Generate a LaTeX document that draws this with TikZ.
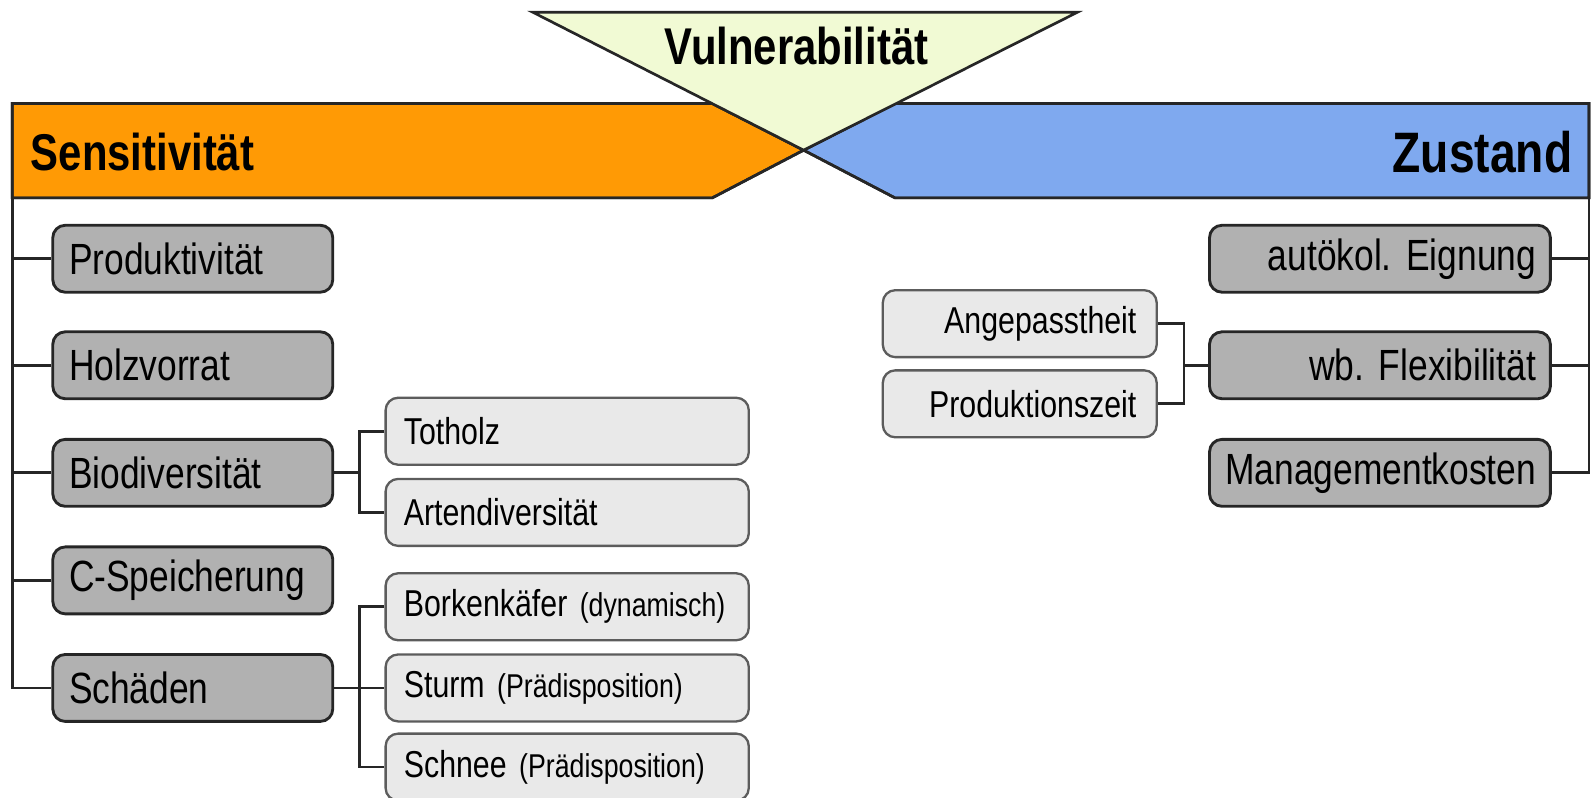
\documentclass[tikz,border=0pt]{standalone}
\usepackage{fontspec}
\setmainfont[FakeStretch=0.81]{Liberation Sans}
\frenchspacing

\definecolor{sensorange}{HTML}{FF9A05}
\definecolor{zustblue}{HTML}{7FA9EF}
\definecolor{vulnyellow}{HTML}{F1FAD4}
\definecolor{boxdark}{HTML}{B1B1B1}
\definecolor{boxlight}{HTML}{E9E9E9}
\definecolor{inkgray}{HTML}{262626}

\newcommand{\bigboxfont}{\fontsize{24.5}{26}\selectfont\spaceskip=4.2pt\relax}
\newcommand{\smallboxfont}{\fontsize{21}{23}\selectfont\spaceskip=3pt\relax}

\tikzset{
    band/.style={draw=inkgray, line width=1.5pt},
    twig/.style={draw=inkgray, line width=1.5pt},
    mainbox/.style={draw=inkgray, line width=1.6pt, rounded corners=7pt, fill=boxdark,
        minimum height=1.32cm, font=\bigboxfont},
    subbox/.style={draw=inkgray!75, line width=1.3pt, rounded corners=7pt, fill=boxlight,
        minimum height=1.32cm, font=\smallboxfont},
    leftmain/.style={mainbox, text width=4.88cm, inner xsep=0.32cm, align=left},
    leftsub/.style={subbox, text width=6.44cm, inner xsep=0.36cm, align=left},
    rightmain/.style={mainbox, text width=6.16cm, inner xsep=0.28cm, align=right},
    rightsub/.style={subbox, text width=4.6cm, inner xsep=0.4cm, align=right},
    headline/.style={font=\fontsize{29}{31}\selectfont\bfseries, inner sep=0pt}
}
\newcommand{\hint}[1]{{\fontsize{18.5}{20}\selectfont #1}}

\begin{document}
\begin{tikzpicture}[x=0.02cm, y=-0.02cm]
    \useasboundingbox (0,0) rectangle (1568,786);
    \clip (0,0) rectangle (1568,786);

    % Kopfleiste
    \fill[band, fill=sensorange] (12,102) -- (702,102) -- (792,148) -- (702,195) -- (12,195) -- cycle;
    \fill[band, fill=zustblue] (1566,102) -- (882,102) -- (792,148) -- (882,195) -- (1566,195) -- cycle;
    \draw[band] (12,195) -- (12,102) -- (702,102) -- (792,148) -- (702,195) -- cycle;
    \draw[band] (1566,195) -- (1566,102) -- (882,102) -- (792,148) -- (882,195) -- cycle;
    \draw[band, fill=vulnyellow] (525,12) -- (1062,12) -- (792,148) -- cycle;

    \node[headline, anchor=west] (sens) at (30,150) {Sensitivität};
    \node[headline, anchor=east, font=\fontsize{32}{34}\selectfont\bfseries] (zust) at (1550,150) {Zustand};
    \node[headline] (vuln) at (785,45) {Vulnerabilität};
    \coordinate (sensfoot) at (12,195);
    \coordinate (zustfoot) at (1566,195);

    % Sensitivitaet
    \foreach \name/\y/\txt in {prod/255/Produktivität, holz/360/Holzvorrat, bio/466/Biodiversität,
        cspei/572/C-Speicherung, schaed/678/Schäden} {
        \node[leftmain] (\name) at (190,\y) {\txt};
    }
    \node[leftsub] (totholz) at (559,425) {Totholz};
    \node[leftsub] (arten) at (559,505) {Artendiversität};
    \node[leftsub] (borken) at (559,598) {Borkenkäfer \hint{(dynamisch)}};
    \node[leftsub] (sturm) at (559,678) {Sturm \hint{(Prädisposition)}};
    \node[leftsub] (schnee) at (559,756) {Schnee \hint{(Prädisposition)}};

    \draw[twig] (sensfoot) |- (schaed.west);
    \foreach \n in {prod, holz, bio, cspei} {
        \draw[twig] (\n.west) -- (\n.west -| sensfoot);
    }
    \coordinate (biojoint) at (354,466);
    \draw[twig] (bio.east) -- (biojoint);
    \draw[twig] (totholz.west) -| (biojoint) |- (arten.west);
    \coordinate (schaedjoint) at (354,678);
    \draw[twig] (schaed.east) -- (sturm.west);
    \draw[twig] (borken.west) -| (schaedjoint) |- (schnee.west);

    % Zustand
    \node[rightmain] (autoek) at (1360,255) {autökol. Eignung};
    \node[rightmain] (flex) at (1360,360) {wb. Flexibilität};
    \node[rightmain] (kosten) at (1360,466) {Managementkosten};
    \node[rightsub] (angep) at (1005,319) {Angepasstheit};
    \node[rightsub] (prodzeit) at (1005,398) {Produktionszeit};

    \draw[twig] (zustfoot) |- (kosten.east);
    \foreach \n in {autoek, flex} {
        \draw[twig] (\n.east) -- (\n.east -| zustfoot);
    }
    \coordinate (flexjoint) at (1167,360);
    \draw[twig] (flex.west) -- (flexjoint);
    \draw[twig] (angep.east) -| (flexjoint) |- (prodzeit.east);
\end{tikzpicture}
\end{document}
